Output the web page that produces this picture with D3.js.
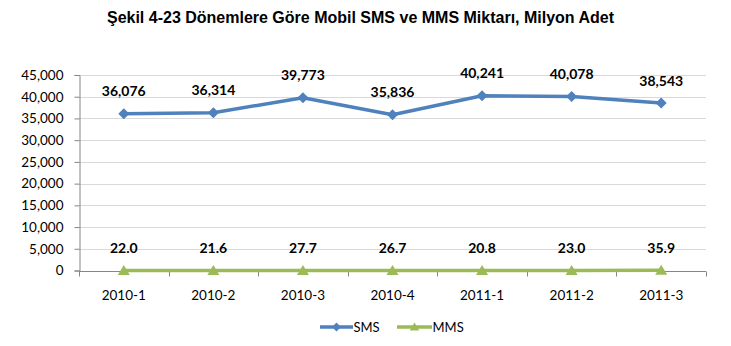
<!DOCTYPE html>
<html>
<head>
<meta charset="utf-8">
<script src="https://cdn.jsdelivr.net/npm/d3@7"></script>
<style>
  html, body { margin: 0; padding: 0; background: #fff; }
  svg { display: block; }
</style>
</head>
<body>
<svg id="chart" width="731" height="346"></svg>
<script>
// Periods and series (million messages)
const periods = ["2010-1", "2010-2", "2010-3", "2010-4", "2011-1", "2011-2", "2011-3"];
const smsValues = [36076, 36314, 39773, 35836, 40241, 40078, 38543];
const mmsValues = [22.0, 21.6, 27.7, 26.7, 20.8, 23.0, 35.9];
const yTicks = [0, 5000, 10000, 15000, 20000, 25000, 30000, 35000, 40000, 45000];
const titleText = "Şekil 4-23 Dönemlere Göre Mobil SMS ve MMS Miktarı, Milyon Adet";

const series = [
  { name: "SMS", values: smsValues, color: "#4F81BD", marker: "diamond", fmt: d3.format(",.0f") },
  { name: "MMS", values: mmsValues, color: "#9BBB59", marker: "triangle", fmt: d3.format(".1f") }
];

const svg = d3.select("#chart");
const plotLeft = 79, plotRight = 706, plotTop = 75, plotBottom = 270.5;
const labelFont = "Lato, 'Open Sans', sans-serif";

const x = d3.scaleBand().domain(periods).range([plotLeft, plotRight]);
const y = d3.scaleLinear().domain([0, 45000]).range([plotBottom, plotTop]);

// Title
svg.append("text")
  .attr("x", 360.5).attr("y", 22.5)
  .attr("text-anchor", "middle")
  .style("font-family", "'Liberation Sans', Arial, sans-serif")
  .style("font-weight", "bold").style("font-size", "16px")
  .text(titleText);

// Gridlines
svg.append("g")
  .selectAll("line").data(yTicks.filter(d => d > 0)).join("line")
  .attr("x1", plotLeft).attr("x2", plotRight)
  .attr("y1", d => Math.round(y(d)) + 0.5).attr("y2", d => Math.round(y(d)) + 0.5)
  .attr("stroke", "#d9d9d9").attr("stroke-width", 1);

// Y axis
const yAxis = svg.append("g")
  .attr("transform", `translate(${plotLeft + 0.5},0)`)
  .call(d3.axisLeft(y).tickValues(yTicks).tickFormat(d3.format(",")).tickSize(5).tickPadding(11));
yAxis.select(".domain").attr("stroke", "#868686");
yAxis.selectAll(".tick line").attr("stroke", "#868686");
yAxis.selectAll(".tick text")
  .style("font-family", labelFont).style("font-size", "13.5px").attr("fill", "#000");

// X axis with ticks at category boundaries
const xAxisG = svg.append("g").attr("transform", `translate(0,${Math.round(plotBottom) + 0.5})`);
xAxisG.call(d3.axisBottom(x).tickSize(0).tickPadding(19));
xAxisG.select(".domain").remove();
xAxisG.selectAll(".tick text")
  .style("font-family", labelFont).style("font-size", "13.5px").attr("fill", "#000");
xAxisG.append("line").attr("x1", plotLeft).attr("x2", plotRight).attr("stroke", "#868686");
const bounds = periods.map(p => x(p)).concat([x(periods[periods.length - 1]) + x.bandwidth()]);
xAxisG.selectAll(".bound").data(bounds).join("line").attr("class", "bound")
  .attr("x1", d => Math.round(d) + 0.5).attr("x2", d => Math.round(d) + 0.5)
  .attr("y1", 0).attr("y2", 5).attr("stroke", "#868686");

const cx = p => x(p) + x.bandwidth() / 2;
function markerPath(type) {
  if (type === "diamond") return "M0,-5.5L5.5,0L0,5.5L-5.5,0Z";
  return "M0,-5.5L6,4.5L-6,4.5Z";
}

// Lines, markers and value labels
series.forEach(s => {
  const pts = periods.map((p, i) => ({ p, v: s.values[i] }));
  svg.append("path").datum(pts)
    .attr("fill", "none").attr("stroke", s.color).attr("stroke-width", 3.5)
    .attr("stroke-linejoin", "round")
    .attr("d", d3.line().x(d => cx(d.p)).y(d => y(d.v)));
  svg.append("g").selectAll("path").data(pts).join("path")
    .attr("transform", d => `translate(${cx(d.p)},${y(d.v)})`)
    .attr("d", markerPath(s.marker)).attr("fill", s.color);
  svg.append("g").selectAll("text").data(pts).join("text")
    .attr("x", d => cx(d.p)).attr("y", d => y(d.v) - 17.5)
    .attr("text-anchor", "middle")
    .style("font-family", labelFont).style("font-weight", "bold").style("font-size", "14px")
    .text(d => s.fmt(d.v));
});

// Legend
const legend = [
  { s: series[0], x1: 320, x2: 353 },
  { s: series[1], x1: 397, x2: 432 }
];
const lg = svg.append("g");
legend.forEach(l => {
  const ly = 327;
  lg.append("line").attr("x1", l.x1).attr("x2", l.x2).attr("y1", ly).attr("y2", ly)
    .attr("stroke", l.s.color).attr("stroke-width", 3.5);
  lg.append("path").attr("transform", `translate(${(l.x1 + l.x2) / 2},${ly}) scale(0.8)`)
    .attr("d", markerPath(l.s.marker)).attr("fill", l.s.color);
  lg.append("text").attr("x", l.x2 + 0.5).attr("y", ly + 4.5)
    .style("font-family", labelFont).style("font-size", "13px").attr("fill", "#000")
    .text(l.s.name);
});
</script>
</body>
</html>
